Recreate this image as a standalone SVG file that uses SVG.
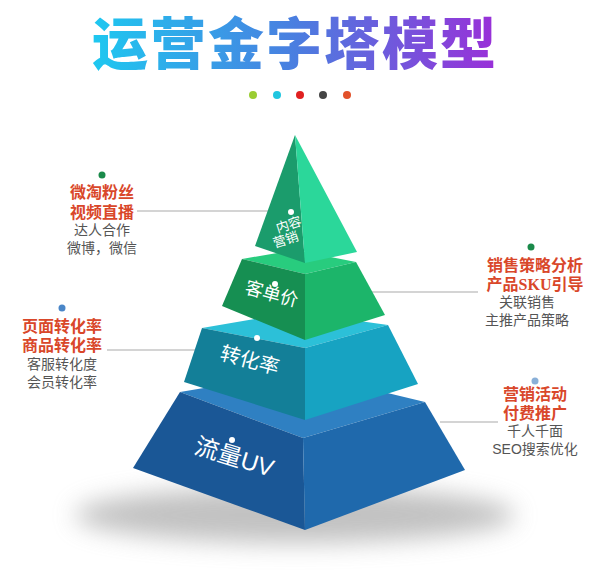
<svg xmlns="http://www.w3.org/2000/svg" width="600" height="585" viewBox="0 0 600 585">
<defs>
<linearGradient id="tg" x1="0" x2="1" y1="0" y2="0"><stop offset="0" stop-color="#1ec8f0"/><stop offset="0.5" stop-color="#4a7ee0"/><stop offset="1" stop-color="#9a2fd8"/></linearGradient>
<filter id="blur" x="-30%" y="-100%" width="160%" height="300%"><feGaussianBlur stdDeviation="12"/></filter>
<style>
.h{font-family:"Liberation Serif","Noto Sans CJK SC",serif;font-weight:bold;font-size:16px;fill:#d9472a;text-anchor:middle}
.s{font-family:"Liberation Sans","Noto Sans CJK SC",sans-serif;font-size:14px;fill:#555;text-anchor:middle}
.t{font-family:"Liberation Sans","Noto Sans CJK SC",sans-serif;fill:#fff;text-anchor:middle}
.ln{stroke:#aaa;stroke-width:1.2}
</style>
</defs>
<rect width="600" height="585" fill="#fff"/>
<text x="295" y="64" font-family="Noto Sans CJK SC,sans-serif" font-weight="900" font-size="56" fill="url(#tg)" text-anchor="middle" letter-spacing="2">运营金字塔模型</text>
<circle cx="253" cy="95" r="4" fill="#9acd32"/><circle cx="277" cy="95" r="4" fill="#20c6e0"/><circle cx="300" cy="95" r="4" fill="#e02020"/><circle cx="323" cy="95" r="4" fill="#444"/><circle cx="347" cy="95" r="4" fill="#e2512a"/>
<ellipse cx="295" cy="515" rx="220" ry="28" fill="#999" opacity="0.6" filter="url(#blur)"/>
<g id="connectors">
<line class="ln" x1="137" y1="211" x2="272" y2="211"/>
<line class="ln" x1="107" y1="350" x2="205" y2="350"/>
<line class="ln" x1="372" y1="292" x2="478" y2="292"/>
<line class="ln" x1="440" y1="422" x2="498" y2="422"/>
</g>
<g id="tier4">
<polygon points="180,392 300,372 425,402 303,438" fill="#2f80c2"/>
<polygon points="180,392 303,438 305,530 133,468" fill="#1a5796"/>
<polygon points="303,438 425,402 465,470 305,530" fill="#1f69ac"/>
<text class="t" font-size="24" transform="translate(232,465) rotate(17)">流量UV</text>
<circle cx="232" cy="440" r="3" fill="#fff"/>
</g>
<g id="tier3">
<polygon points="202,328 295,312 388,325 305,348" fill="#2cc0d8"/>
<polygon points="202,328 305,348 305,420 184,382" fill="#137f98"/>
<polygon points="305,348 388,325 418,384 305,420" fill="#17a3c2"/>
<text class="t" font-size="20" transform="translate(248,367) rotate(15)">转化率</text>
<circle cx="257" cy="338" r="3" fill="#fff"/>
</g>
<g id="tier2">
<polygon points="242,259 295,250 356,262 305,274" fill="#28cc7e"/>
<polygon points="242,259 305,274 305,340 222,306" fill="#168f52"/>
<polygon points="305,274 356,262 385,315 305,340" fill="#1cb56a"/>
<text class="t" font-size="18" transform="translate(270,300) rotate(15)">客单价</text>
<circle cx="275" cy="284" r="3" fill="#fff"/>
</g>
<g id="tier1">
<polygon points="295,135 305,263 255,246" fill="#1b9c6c"/>
<polygon points="295,135 357,252 305,263" fill="#2bd79a"/>
<circle cx="291" cy="212" r="3" fill="#fff"/>
<text class="t" font-size="13" transform="translate(290,229) rotate(-18)">内容</text>
<text class="t" font-size="13" transform="translate(287,244) rotate(-18)">营销</text>
</g>
<g id="label-lt">
<circle cx="102" cy="175" r="3.5" fill="#1a8a4a"/>
<text class="h" x="102" y="198">微淘粉丝</text><text class="h" x="102" y="218">视频直播</text>
<text class="s" x="102" y="235">达人合作</text><text class="s" x="102" y="253">微博，微信</text>
</g>
<g id="label-lb">
<circle cx="62" cy="308" r="3.5" fill="#4a86c8"/>
<text class="h" x="62" y="332">页面转化率</text><text class="h" x="62" y="351">商品转化率</text>
<text class="s" x="62" y="369">客服转化度</text><text class="s" x="62" y="387">会员转化率</text>
</g>
<g id="label-rt">
<circle cx="531" cy="247" r="3.5" fill="#1a8a4a"/>
<text class="h" x="535" y="271">销售策略分析</text><text class="h" x="535" y="290">产品SKU引导</text>
<text class="s" x="527" y="307">关联销售</text><text class="s" x="527" y="325">主推产品策略</text>
</g>
<g id="label-rb">
<circle cx="535" cy="381" r="3.5" fill="#8ab0d8"/>
<text class="h" x="535" y="400">营销活动</text><text class="h" x="535" y="419">付费推广</text>
<text class="s" x="535" y="436">千人千面</text><text class="s" x="535" y="454">SEO搜索优化</text>
</g>
</svg>
